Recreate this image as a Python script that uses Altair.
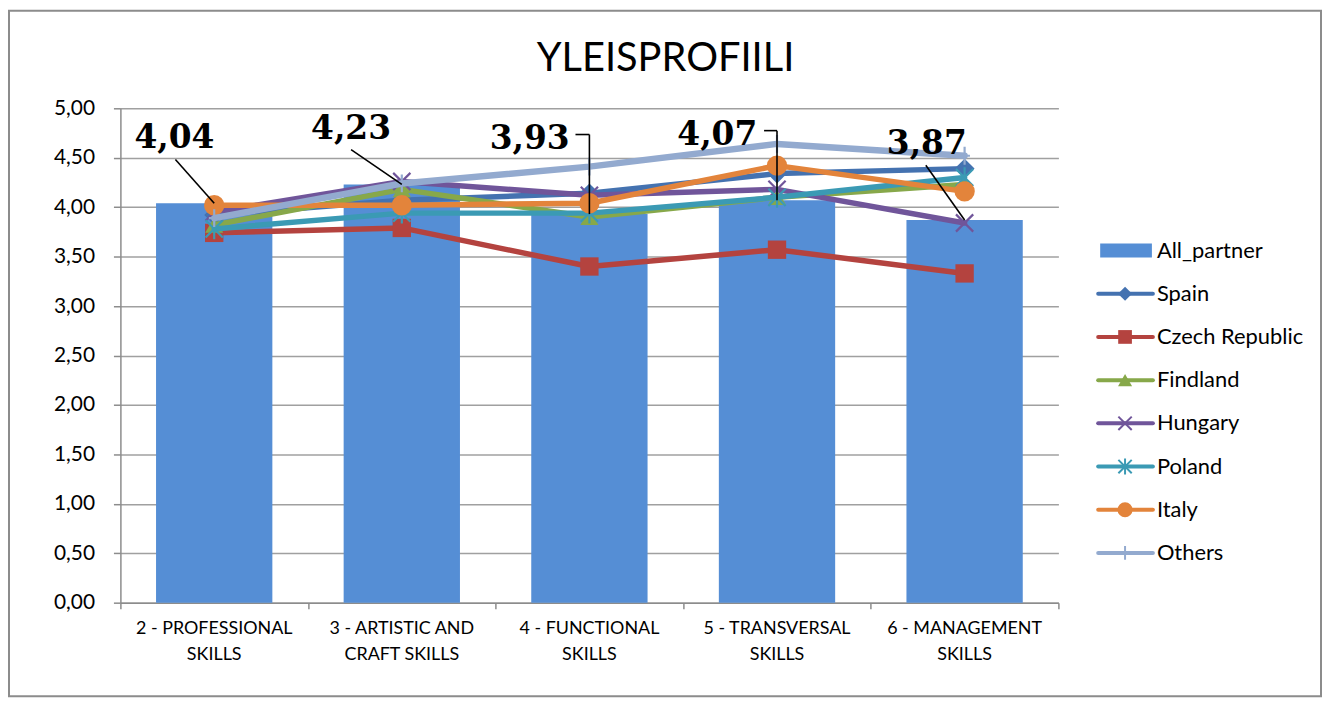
import altair as alt
import pandas as pd

TITLE = "YLEISPROFIILI"
CATEGORIES = [
    "2 - PROFESSIONAL|SKILLS",
    "3 - ARTISTIC AND|CRAFT SKILLS",
    "4 - FUNCTIONAL|SKILLS",
    "5 - TRANSVERSAL|SKILLS",
    "6 - MANAGEMENT|SKILLS",
]
ALL_PARTNER = [4.04, 4.23, 3.93, 4.07, 3.87]
ALL_PARTNER_LABELS = ["4,04", "4,23", "3,93", "4,07", "3,87"]

SERIES_NAMES = ["Spain", "Czech Republic", "Findland", "Hungary", "Poland", "Italy", "Others"]
SPAIN = [3.92, 4.07, 4.14, 4.34, 4.39]
CZECH = [3.74, 3.79, 3.40, 3.57, 3.33]
FINDLAND = [3.82, 4.18, 3.90, 4.10, 4.23]
HUNGARY = [3.95, 4.26, 4.12, 4.18, 3.84]
POLAND = [3.78, 3.94, 3.94, 4.10, 4.30]
ITALY = [4.02, 4.02, 4.04, 4.42, 4.16]
OTHERS = [3.89, 4.24, 4.41, 4.64, 4.52]
SERIES_VALUES = [SPAIN, CZECH, FINDLAND, HUNGARY, POLAND, ITALY, OTHERS]
Y_TICKS = [0, 0.5, 1, 1.5, 2, 2.5, 3, 3.5, 4, 4.5, 5]
X_BOUNDARY_TICKS = [0, 1, 2, 3, 4, 5]

# ---- styles ----
BAR_COLOR = "#558ED5"
COLORS = ["#4472B0", "#B4433F", "#87A84A", "#70559A", "#3B9AB4", "#E3843B", "#93AACF"]
X_PATH = "M-1,-1L1,1M-1,1L1,-1"
STAR_PATH = "M-1,-1L1,1M-1,1L1,-1M0,-1.2L0,1.2"
PLUS_PATH = "M0,-1L0,1M-0.6,0L0.6,0"
SHAPES = ["diamond", "square", "triangle-up", X_PATH, STAR_PATH, "circle", PLUS_PATH]
FILLED = [True, True, True, False, False, True, False]
SIZES = [400, 340, 330, 300, 300, 420, 320]
LEG_SIZES = [200, 190, 200, 180, 180, 230, 190]
LINE_W = [5.5, 5.5, 5.5, 5.5, 5.5, 5.5, 6.5]
GRAY = "#8C8C8C"
SANS = "Lato"

# annotation placement (pixel offsets from the bar top)
ANN_TEXT_OFF = [(-40, -56), (-51, -46), (-60, -65), (-60, -56), (-38, -66)]
ANN_LINE = [("d", -39, -44), ("d", -51, -35), ("e", -14, -80), ("e", -13, -70), ("d", -39, -55)]

bars_df = pd.DataFrame({
    "cat": CATEGORIES,
    "value": ALL_PARTNER,
    "label": ALL_PARTNER_LABELS,
    "pos": [i + 0.5 for i in range(len(CATEGORIES))],
})

W, H = 943, 497

x_enc = alt.X(
    "cat:N",
    title=None,
    sort=CATEGORIES,
    scale=alt.Scale(domain=CATEGORIES, paddingInner=0.38, paddingOuter=0.19),
    axis=alt.Axis(
        orient="bottom",
        labelExpr="split(datum.label, '|')",
        labelAngle=0,
        ticks=False,
        labelFont=SANS,
        labelFontSize=18,
        labelLineHeight=26,
        labelPadding=17,
        labelColor="black",
        domainColor=GRAY,
        domainWidth=1.5,
        grid=False,
    ),
)
y_enc = alt.Y(
    "value:Q",
    title=None,
    scale=alt.Scale(domain=[0, 5], nice=False),
    axis=alt.Axis(
        values=Y_TICKS,
        labelExpr="replace(format(datum.value, '.2f'), '.', ',')",
        labelFont=SANS,
        labelFontSize=21,
        labelColor="black",
        labelPadding=19,
        tickSize=7,
        tickColor=GRAY,
        tickWidth=1.5,
        domainColor=GRAY,
        domainWidth=1.5,
        grid=True,
        gridColor="#A0A0A0",
        gridWidth=1.5,
    ),
)

layers = [alt.Chart(bars_df).mark_bar(color=BAR_COLOR).encode(x=x_enc, y=y_enc)]
for i, name in enumerate(SERIES_NAMES):
    df = pd.DataFrame({"cat": CATEGORIES, "value": SERIES_VALUES[i], "name": name})
    base = alt.Chart(df)
    layers.append(
        base.mark_line(color=COLORS[i], strokeWidth=LINE_W[i], strokeCap="round", strokeJoin="round")
        .encode(x=x_enc, y=y_enc)
    )
    if FILLED[i]:
        pm = base.mark_point(shape=SHAPES[i], size=SIZES[i], filled=True, color=COLORS[i], opacity=1)
    else:
        pm = base.mark_point(shape=SHAPES[i], size=SIZES[i], filled=False, color=COLORS[i],
                             strokeWidth=2.2, opacity=1)
    layers.append(pm.encode(x=x_enc, y=y_enc))
main = alt.layer(*layers)

# ---- annotations (continuous position scale, also draws the category boundary ticks) ----
ax_tick = alt.X(
    "pos:Q",
    title=None,
    scale=alt.Scale(domain=[0, 5], nice=False, zero=False),
    axis=alt.Axis(orient="bottom", values=X_BOUNDARY_TICKS, labels=False, domain=False, grid=False,
                  ticks=True, tickSize=6, tickColor=GRAY, tickWidth=1.5),
)
ax = alt.X("pos:Q", scale=alt.Scale(domain=[0, 5], nice=False, zero=False), title=None)
ay = alt.Y("value:Q", scale=alt.Scale(domain=[0, 5], nice=False), axis=None, title=None)
ann_layers = []
for i in range(len(CATEGORIES)):
    one = alt.Chart(bars_df.iloc[[i]])
    dx, dy = ANN_TEXT_OFF[i]
    ann_layers.append(
        one.mark_text(dx=dx, dy=dy, font="DejaVu Serif", fontWeight="bold", fontSize=33,
                      align="center", baseline="alphabetic", color="black")
        .encode(x=ax_tick if i == 0 else ax, y=ay, text="label:N")
    )
    kind, lx, ly = ANN_LINE[i]
    if kind == "d":
        ann_layers.append(
            one.mark_rule(color="black", strokeWidth=1.6, x2Offset=lx, y2Offset=ly)
            .encode(x=ax, y=ay, x2="pos:Q", y2="value:Q")
        )
    else:
        ann_layers.append(
            one.mark_rule(color="black", strokeWidth=1.6, y2Offset=ly)
            .encode(x=ax, y=ay, y2="value:Q")
        )
        ann_layers.append(
            one.mark_rule(color="black", strokeWidth=1.6, x2Offset=lx, yOffset=ly)
            .encode(x=ax, x2="pos:Q", y=ay)
        )
ann = alt.layer(*ann_layers)

# ---- legend ----
LEGEND_NAMES = ["All_partner"] + SERIES_NAMES
leg_df = pd.DataFrame({"name": LEGEND_NAMES})
ly_enc = alt.Y("name:N", title=None, axis=None,
               scale=alt.Scale(type="point", domain=LEGEND_NAMES, range=[143, 447], padding=0))
LX0, LX1, LXM, LXT = 983, 1038, 1010, 1042
leg_layers = [
    alt.Chart(leg_df).transform_filter(alt.datum.name == "All_partner")
    .mark_rule(color=BAR_COLOR, strokeWidth=14, strokeCap="butt")
    .encode(x=alt.value(LX0 + 2), x2=alt.value(LX1 - 1), y=ly_enc)
]
for i, name in enumerate(SERIES_NAMES):
    b = alt.Chart(leg_df).transform_filter(alt.datum.name == name)
    leg_layers.append(
        b.mark_rule(color=COLORS[i], strokeWidth=4, strokeCap="round")
        .encode(x=alt.value(LX0), x2=alt.value(LX1), y=ly_enc)
    )
    if FILLED[i]:
        lm = b.mark_point(shape=SHAPES[i], size=LEG_SIZES[i], filled=True, color=COLORS[i], opacity=1)
    else:
        lm = b.mark_point(shape=SHAPES[i], size=LEG_SIZES[i], filled=False, color=COLORS[i],
                          strokeWidth=2, opacity=1)
    leg_layers.append(lm.encode(x=alt.value(LXM), y=ly_enc))
leg_layers.append(
    alt.Chart(leg_df).mark_text(align="left", baseline="middle", font=SANS, fontSize=22, color="black")
    .encode(x=alt.value(LXT), y=ly_enc, text="name:N")
)
legend = alt.layer(*leg_layers)

# ---- frame and title ----
one_row = pd.DataFrame({"t": [TITLE]})
border = alt.Chart(one_row).mark_rect(fillOpacity=0, stroke=GRAY, strokeWidth=2).encode(
    x=alt.value(-112), x2=alt.value(1207), y=alt.value(-98), y2=alt.value(591)
)
title = alt.Chart(one_row).mark_text(font=SANS, fontSize=40, align="center", baseline="alphabetic",
                                     color="black").encode(
    x=alt.value(548), y=alt.value(-38), text="t:N"
)

chart = (
    alt.layer(border, main, ann, legend, title)
    .resolve_scale(x="independent", y="independent")
    .properties(width=W, height=H, padding=0, background="white")
    .configure_view(stroke=None)
)

chart.save("out.html", embed_options={"renderer": "svg", "actions": False})
